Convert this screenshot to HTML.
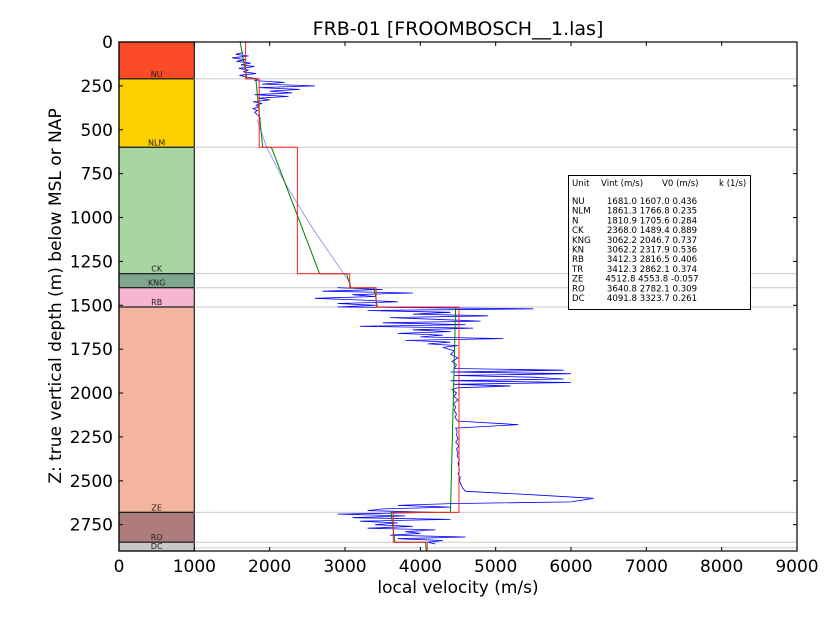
<!DOCTYPE html>
<html><head><meta charset="utf-8">
<style>
body{margin:0;background:#fff;}
svg{display:block;font-family:"DejaVu Sans","Liberation Sans",sans-serif;}
</style></head>
<body>
<svg id="chart" width="840" height="630" viewBox="0 0 840 630" xmlns="http://www.w3.org/2000/svg">
<rect width="840" height="630" fill="#fff"/>
<text x="458" y="35" font-size="19" text-anchor="middle">FRB-01 [FROOMBOSCH__1.las]</text>
<text x="458" y="593" font-size="17" text-anchor="middle">local velocity (m/s)</text>
<text transform="translate(61,296) rotate(-90)" font-size="17" text-anchor="middle">Z: true vertical depth (m) below MSL or NAP</text>
<g id="layers"></g>
<g id="marks"></g>
<g id="axes"></g>
<g font-size="8.6">
<rect x="568.5" y="175.5" width="182" height="134" fill="#fff" stroke="#000" stroke-width="1"/>
<text x="572" y="186">Unit</text><text x="601" y="186">Vint (m/s)</text><text x="662" y="186">V0 (m/s)</text><text x="719" y="186">k (1/s)</text>
<g id="tablerows"></g>
</g>
</svg>
<script>
// ---- data ----
const unitNames = ["NU","NLM","CK","KNG","RB","ZE","RO","DC"];
const unitTops  = [0,210,600,1320,1400,1510,2680,2850];
const unitBases = [210,600,1320,1400,1510,2680,2850,2900];
const unitColors= ["#fb4a26","#fdd000","#a8d5a2","#7fa68f","#f4b6d0","#f3b5a0","#ae7d7b","#c8c8c8"];
const unitVint  = [1681.0,1861.3,2368.0,3062.2,3412.3,4512.8,3640.8,4091.8];
const unitV0    = [1607.0,1766.8,1489.4,2046.7,2816.5,4553.8,2782.1,3323.7];
const unitK     = [0.436,0.235,0.889,0.737,0.406,-0.057,0.309,0.261];
const tableUnits= ["NU","NLM","N","CK","KNG","KN","RB","TR","ZE","RO","DC"];
const tableVint = ["1681.0","1861.3","1810.9","2368.0","3062.2","3062.2","3412.3","3412.3","4512.8","3640.8","4091.8"];
const tableV0   = ["1607.0","1766.8","1705.6","1489.4","2046.7","2317.9","2816.5","2862.1","4553.8","2782.1","3323.7"];
const tableK    = ["0.436","0.235","0.284","0.889","0.737","0.536","0.406","0.374","-0.057","0.309","0.261"];
const xTicks = [0,1000,2000,3000,4000,5000,6000,7000,8000,9000];
const yTicks = [0,250,500,750,1000,1250,1500,1750,2000,2250,2500,2750];
// compaction trend (thin blue)
const trendZ = [440,600,700,800,900,1000,1100,1200,1300,1380];
const trendV = [1830,1960,2080,2200,2340,2480,2630,2790,2950,3080];
// sonic log (blue)
const logZ = [60,70,80,90,100,110,120,130,140,150,160,170,180,190,200,210,220,230,240,250,260,270,280,290,300,310,320,330,340,350,360,370,380,390,400,420,440,
1400,1410,1420,1430,1440,1450,1460,1470,1480,1490,1500,1510,1520,1530,1540,1550,1560,1570,1580,1590,1600,1610,1620,1630,1640,1650,1660,1670,1680,1690,1700,1710,1720,1730,1740,1760,1780,1800,1820,1840,1860,1870,1880,1890,1900,1910,1920,1930,1940,1950,1960,1970,1980,2000,2020,2040,2060,2080,2100,2120,2140,2160,2180,2200,2220,2240,2260,2280,2300,2320,2340,2360,2380,2400,2420,2440,2460,2480,2500,2520,2540,2560,2580,2600,2620,2630,2640,2650,2660,2670,2680,2690,2700,2710,2720,2730,2740,2750,2760,2770,2780,2790,2800,2810,2820,2830,2840,2850,2860,2870,2880];
const logV = [1650,1550,1720,1500,1680,1560,1750,1620,1800,1590,1720,1650,1820,1600,1700,1850,1800,2200,1900,2600,1850,2400,2000,2300,1800,2250,1850,2000,1780,1900,1820,1850,1780,1840,1800,1850,1880,
2900,3500,2700,3900,3100,3400,2600,3200,3700,2900,3400,2900,5500,3300,4400,3900,4900,3600,4200,4800,3500,4600,3200,4700,3900,4400,3700,4300,4000,5100,3800,4400,4100,4500,4300,4450,4400,4500,4420,4480,4450,5900,4400,6000,4450,5500,5900,4400,6000,4450,5200,4500,4420,4480,4450,4500,4440,4470,4450,4480,4460,4500,5300,4470,4490,4480,4500,4470,4510,4480,4500,4490,4520,4500,4510,4520,4500,4530,4520,4540,4560,4600,5500,6300,6000,4400,3700,4400,3500,3300,4200,2900,3800,3100,4400,3200,3700,3400,3900,3300,4200,3800,4000,3600,4600,3700,4300,4100,4200];
// ---- scales ----
const L=119,R=797,T=42,B=551,XMAX=9000,ZMAX=2900;
const xs=v=>L+(v/XMAX)*(R-L);
const ys=z=>T+(z/ZMAX)*(B-T);
const NS="http://www.w3.org/2000/svg";
function mk(tag,parent,attrs){const e=document.createElementNS(NS,tag);for(const k in attrs)e.setAttribute(k,attrs[k]);parent.appendChild(e);return e;}
const layers=document.getElementById('layers'),marks=document.getElementById('marks'),axes=document.getElementById('axes');
const colL=L,colR=xs(1000);
unitNames.forEach((n,i)=>{
  const r=mk('rect',layers,{x:colL,y:ys(unitTops[i]),width:colR-colL,height:ys(unitBases[i])-ys(unitTops[i]),fill:unitColors[i],stroke:'#222','stroke-width':1.2});
  
  
  const t=mk('text',layers,{x:(colL+colR)/2,y:ys(unitBases[i])-2,'font-size':8,'text-anchor':'middle',fill:'#222'});
  t.textContent=n;
  
  
  if(i>0){const g=mk('line',layers,{x1:colR,x2:R,y1:ys(unitTops[i]),y2:ys(unitTops[i]),stroke:'#ccc','stroke-width':1});
  
  }
});
{const g=mk('line',layers,{x1:colR,x2:R,y1:ys(unitBases[7]-18),y2:ys(unitBases[7]-18),stroke:'#ccc','stroke-width':1});

}
// sonic log (break path where depth gap is large)
let d='';logZ.forEach((z,i)=>{const brk=(i===0)||(z-logZ[i-1]>200);d+=(brk?'M':'L')+xs(logV[i]).toFixed(1)+' '+ys(z).toFixed(1);});
const lg=mk('path',marks,{d:d,fill:'none',stroke:'#0000ff','stroke-width':0.8});


// trend
d='';trendZ.forEach((z,i)=>{d+=(i?'L':'M')+xs(trendV[i]).toFixed(1)+' '+ys(z).toFixed(1);});
const tr=mk('path',marks,{d:d,fill:'none',stroke:'#8888ff','stroke-width':0.8});


// interval velocity (red) & linear model (green)
let dr='',dg='';
unitNames.forEach((n,i)=>{
  const z0=unitTops[i],z1=unitBases[i];
  dr+=(i?'L':'M')+xs(unitVint[i]).toFixed(1)+' '+ys(z0).toFixed(1)+'L'+xs(unitVint[i]).toFixed(1)+' '+ys(z1).toFixed(1);
  const v0=unitV0[i]+unitK[i]*z0,v1=unitV0[i]+unitK[i]*z1;
  dg+=(i?'L':'M')+xs(v0).toFixed(1)+' '+ys(z0).toFixed(1)+'L'+xs(v1).toFixed(1)+' '+ys(z1).toFixed(1);
});
const gr=mk('path',marks,{d:dg,fill:'none',stroke:'#008000','stroke-width':1});


const rd=mk('path',marks,{d:dr,fill:'none',stroke:'#ff2020','stroke-width':1});


// axes
const fr=mk('rect',axes,{x:L,y:T,width:R-L,height:B-T,fill:'none',stroke:'#000','stroke-width':1.2});


xTicks.forEach(v=>{
  mk('line',axes,{x1:xs(v),x2:xs(v),y1:B,y2:B-4,stroke:'#000'});
  mk('line',axes,{x1:xs(v),x2:xs(v),y1:T,y2:T+4,stroke:'#000'});
  const t=mk('text',axes,{x:xs(v),y:B+21,'font-size':17,'text-anchor':'middle'});t.textContent=v;
  
  
});
yTicks.forEach(v=>{
  mk('line',axes,{x1:L,x2:L+4,y1:ys(v),y2:ys(v),stroke:'#000'});
  mk('line',axes,{x1:R,x2:R-4,y1:ys(v),y2:ys(v),stroke:'#000'});
  const t=mk('text',axes,{x:L-6,y:ys(v)+6,'font-size':17,'text-anchor':'end'});t.textContent=v;
  
  
});
// table rows
const tb=document.getElementById('tablerows');
tableUnits.forEach((u,i)=>{
  const y=204+i*9.7;
  const t=mk('text',tb,{x:572,y:y});
  t.textContent=u;
  
  
  const t2=mk('text',tb,{x:652,y:y,'text-anchor':'middle'});
  t2.textContent=tableVint[i]+'  '+tableV0[i]+'  '+tableK[i];
  
  
});
</script>
</body></html>
